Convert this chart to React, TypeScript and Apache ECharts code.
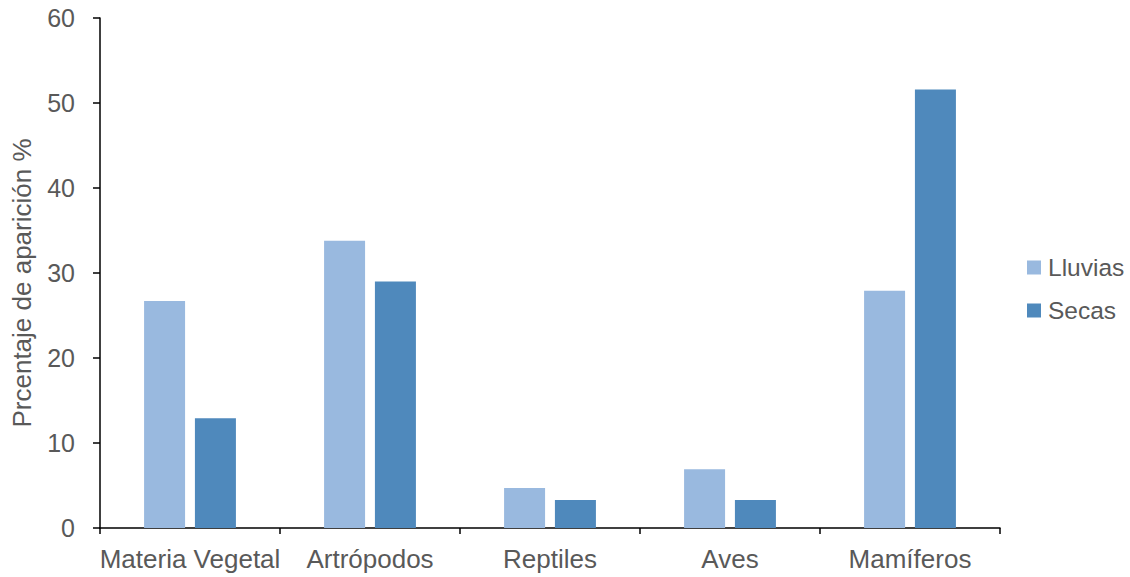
import React, { useEffect, useRef } from "react";
import * as echarts from "echarts";

const categories = ["Materia Vegetal", "Artrópodos", "Reptiles", "Aves", "Mamíferos"];
const lluvias = [26.7, 33.8, 4.7, 6.9, 27.9];
const secas = [12.9, 29.0, 3.3, 3.3, 51.6];
const seriesNames = ["Lluvias", "Secas"];
const yAxisTitle = "Prcentaje de aparición %";

const FONT = "Liberation Sans, Arial, sans-serif";
const TEXT = "#595959";

export default function App() {
  const ref = useRef<HTMLDivElement>(null);

  useEffect(() => {
    if (!ref.current) return;
    const chart = echarts.init(ref.current, null, { renderer: "svg" });
    chart.setOption({
      animation: false,
      backgroundColor: "#ffffff",
      textStyle: { fontFamily: FONT },
      grid: { left: 100, right: 130, top: 18, bottom: 49, containLabel: false },
      legend: {
        orient: "vertical",
        left: 1022,
        top: 250,
        itemWidth: 14,
        itemHeight: 14,
        itemGap: 18,
        icon: "rect",
        textStyle: { fontSize: 24.5, color: TEXT, fontFamily: FONT, padding: [0, 0, 0, 2] },
        data: seriesNames,
      },
      xAxis: {
        type: "category",
        data: categories,
        axisLine: { lineStyle: { color: "#000", width: 1.5 } },
        axisTick: { show: true, length: 6, alignWithLabel: false, lineStyle: { color: "#000", width: 1.5 } },
        axisLabel: { fontSize: 26, color: TEXT, margin: 18, fontFamily: FONT, interval: 0 },
      },
      yAxis: {
        type: "value",
        min: 0,
        max: 60,
        interval: 10,
        name: yAxisTitle,
        nameLocation: "middle",
        nameGap: 65,
        nameTextStyle: { fontSize: 26, color: TEXT, fontFamily: FONT, padding: [0, 20, 0, 0] },
        splitLine: { show: false },
        axisLine: { show: true, lineStyle: { color: "#000", width: 1.5 } },
        axisTick: { show: true, length: 7, lineStyle: { color: "#000", width: 1.5 } },
        axisLabel: { fontSize: 25, color: TEXT, margin: 25, fontFamily: FONT },
      },
      series: [
        {
          name: seriesNames[0],
          type: "bar",
          data: lluvias,
          barWidth: 41,
          barGap: "24%",
          itemStyle: { color: "#99B9DF" },
        },
        {
          name: seriesNames[1],
          type: "bar",
          data: secas,
          barWidth: 41,
          barGap: "24%",
          itemStyle: { color: "#4F89BC" },
        },
      ],
    });
    return () => chart.dispose();
  }, []);

  return (
    <div
      ref={ref}
      style={{ position: "fixed", left: 0, top: 0, width: 1130, height: 577, background: "#fff" }}
    />
  );
}
